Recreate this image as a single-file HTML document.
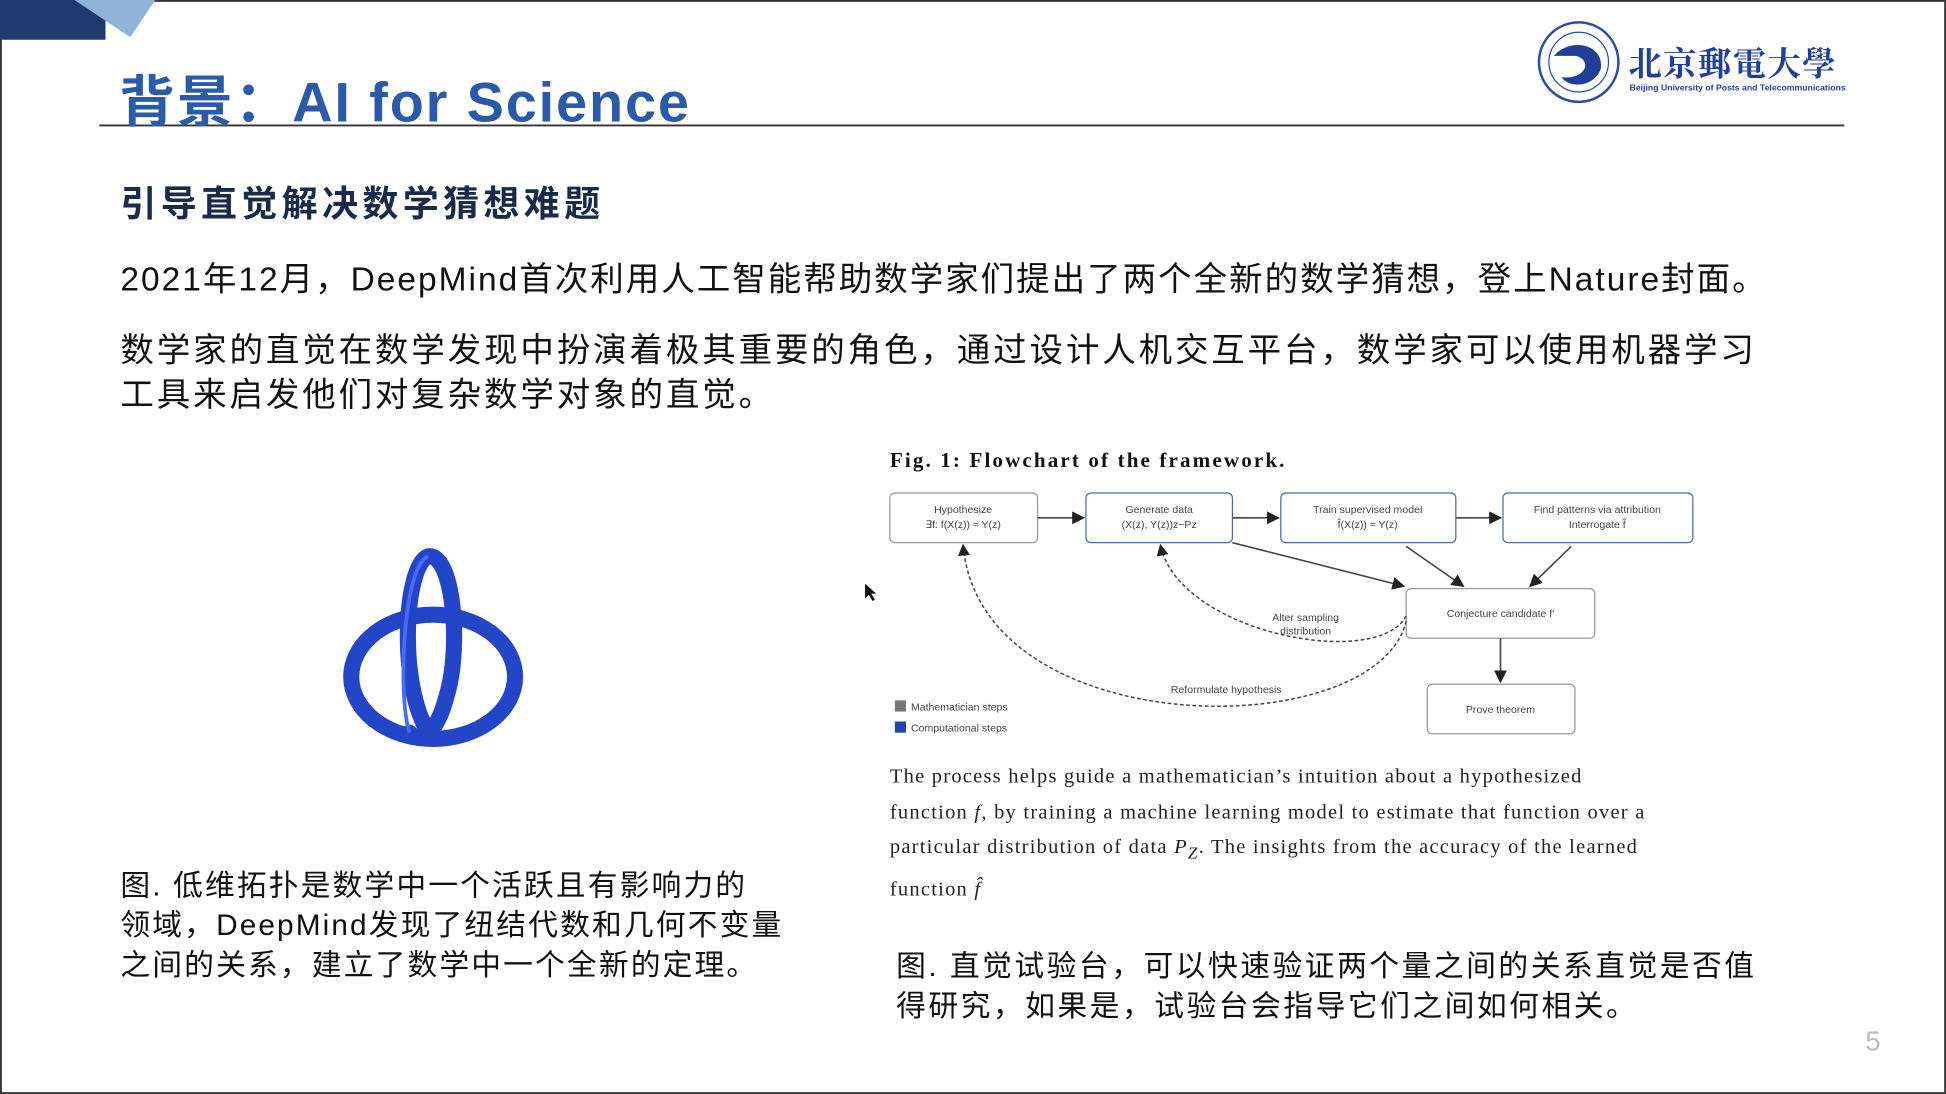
<!DOCTYPE html>
<html><head><meta charset="utf-8"><style>
html,body{margin:0;padding:0;background:#fff;overflow:hidden}
#s{position:absolute;left:0;top:0;width:1568px;height:881px;transform:scale(1.2411,1.2418);transform-origin:0 0;font-family:"Liberation Sans","Noto Sans CJK SC",sans-serif;color:#111}
.a{position:absolute;white-space:nowrap}
</style></head><body><div id="s">
<svg class="a" style="left:0;top:0" width="1568" height="881">
<rect x="0.5" y="0.5" width="1567" height="880" fill="none" stroke="#333" stroke-width="2"/>
<polygon points="0,0 85,0 85,32 0,32" fill="#1f3a6e"/>
<polygon points="60,0 125,0 105,30" fill="#8fb3d9"/>
<line x1="80" y1="101" x2="1486" y2="101" stroke="#333" stroke-width="1.5"/>
<g fill="none" stroke="#2346c8" stroke-width="13" stroke-linecap="round">
<ellipse cx="349" cy="545" rx="66" ry="50"/>
<path d="M349 595 C 320 560, 325 455, 345 448 C 365 445, 372 520, 360 560 C 352 590, 340 600, 330 590"/>
</g>
<path d="M330 590 C 320 560, 325 455, 345 448" stroke="#4a6cf0" stroke-width="3" fill="none"/>
<g font-family="Liberation Sans" font-size="8.5" fill="#444" text-anchor="middle">
<rect x="717" y="397" width="119" height="40" rx="4" fill="#fff" stroke="#999"/>
<text x="776" y="413">Hypothesize</text><text x="776" y="425">∃f: f(X(z)) ≈ Y(z)</text>
<rect x="875" y="397" width="118" height="40" rx="4" fill="#fff" stroke="#4a6aa8"/>
<text x="934" y="413">Generate data</text><text x="934" y="425">(X(z), Y(z))z~Pz</text>
<rect x="1032" y="397" width="141" height="40" rx="4" fill="#fff" stroke="#4a6aa8"/>
<text x="1102" y="413">Train supervised model</text><text x="1102" y="425">f̂(X(z)) ≈ Y(z)</text>
<rect x="1211" y="397" width="153" height="40" rx="4" fill="#fff" stroke="#4a6aa8"/>
<text x="1287" y="413">Find patterns via attribution</text><text x="1287" y="425">Interrogate f̂</text>
<rect x="1133" y="474" width="152" height="40" rx="4" fill="#fff" stroke="#999"/>
<text x="1209" y="497">Conjecture candidate f'</text>
<rect x="1150" y="551" width="119" height="40" rx="4" fill="#fff" stroke="#999"/>
<text x="1209" y="574">Prove theorem</text>
<text x="1052" y="500">Alter sampling</text><text x="1052" y="511">distribution</text>
<text x="988" y="558">Reformulate hypothesis</text>
<text x="734" y="572" text-anchor="start">Mathematician steps</text>
<text x="734" y="589" text-anchor="start">Computational steps</text>
</g>
<rect x="721" y="564" width="9" height="9" fill="#777"/><rect x="721" y="581" width="9" height="9" fill="#2244aa"/>
<defs><marker id="m" markerWidth="8" markerHeight="8" refX="7" refY="4" orient="auto"><path d="M0,0 L8,4 L0,8z" fill="#222"/></marker></defs>
<g stroke="#444" stroke-width="1.3" fill="none" marker-end="url(#m)">
<line x1="836" y1="417" x2="873" y2="417"/><line x1="993" y1="417" x2="1030" y2="417"/><line x1="1173" y1="417" x2="1209" y2="417"/>
<line x1="993" y1="437" x2="1131" y2="472"/><line x1="1133" y1="440" x2="1179" y2="472"/><line x1="1266" y1="440" x2="1233" y2="472"/>
<line x1="1209" y1="514" x2="1209" y2="549"/>
</g>
<g stroke="#444" stroke-width="1.2" fill="none" stroke-dasharray="3,2" marker-end="url(#m)">
<path d="M1133 496 C 1110 540, 950 510, 935 439"/>
<path d="M1133 500 C 1110 600, 790 600, 776 439"/>
</g>
<path d="M697 470 L697 482 L700 479 L703 484 L705 483 L702 478 L706 478z" fill="#111"/>
<circle cx="1272" cy="50" r="32" fill="none" stroke="#2a4ea8" stroke-width="2"/>
<circle cx="1272" cy="50" r="24" fill="none" stroke="#2a4ea8" stroke-width="1"/>
<path d="M1252 45 C 1265 30, 1292 35, 1290 55 C 1285 70, 1265 72, 1258 62 C 1275 65, 1285 50, 1270 45z" fill="#1f3f99"/>
</svg>
<div class="a" style="left:1312px;top:30px;font-size:27px;font-weight:bold;color:#1f3f99;font-family:'Noto Serif CJK SC',serif;letter-spacing:1px">北京郵電大學</div>
<div class="a" style="left:1313px;top:68px;font-size:7px;color:#1f3f99;font-weight:bold">Beijing University of Posts and Telecommunications</div>
<div class="a" style="left:96px;top:46px;font-size:45px;font-weight:bold;color:#2a5aa8;letter-spacing:1.5px">背景：AI for Science</div>
<div class="a" style="left:97px;top:141px;font-size:29px;font-weight:bold;color:#1a2a4a;letter-spacing:3.5px">引导直觉解决数学猜想难题</div>
<div class="a" style="left:97px;top:203px;font-size:27px;letter-spacing:1.6px">2021年12月，DeepMind首次利用人工智能帮助数学家们提出了两个全新的数学猜想，登上Nature封面。</div>
<div class="a" style="left:97px;top:264px;font-size:27px;line-height:36px;letter-spacing:2.3px">数学家的直觉在数学发现中扮演着极其重要的角色，通过设计人机交互平台，数学家可以使用机器学习<br>工具来启发他们对复杂数学对象的直觉。</div>
<div class="a" style="left:717px;top:361px;font-size:17px;font-weight:bold;font-family:'Liberation Serif',serif;letter-spacing:1.7px">Fig. 1: Flowchart of the framework.</div>
<div class="a" style="left:717px;top:611px;font-size:16.5px;line-height:28.5px;font-family:'Liberation Serif',serif;color:#222;letter-spacing:1px">The process helps guide a mathematician’s intuition about a hypothesized<br>function <i>f</i>, by training a machine learning model to estimate that function over a<br>particular distribution of data <i>P<sub>Z</sub></i>. The insights from the accuracy of the learned<br>function <i>f̂</i></div>
<div class="a" style="left:97px;top:698px;font-size:24px;line-height:32px;letter-spacing:1.7px">图. 低维拓扑是数学中一个活跃且有影响力的<br>领域，DeepMind发现了纽结代数和几何不变量<br>之间的关系，建立了数学中一个全新的定理。</div>
<div class="a" style="left:722px;top:763px;font-size:24px;line-height:32px;letter-spacing:2px">图. 直觉试验台，可以快速验证两个量之间的关系直觉是否值<br>得研究，如果是，试验台会指导它们之间如何相关。</div>
<div class="a" style="left:1503px;top:826px;font-size:22px;color:#bbb">5</div>
</div></body></html>
